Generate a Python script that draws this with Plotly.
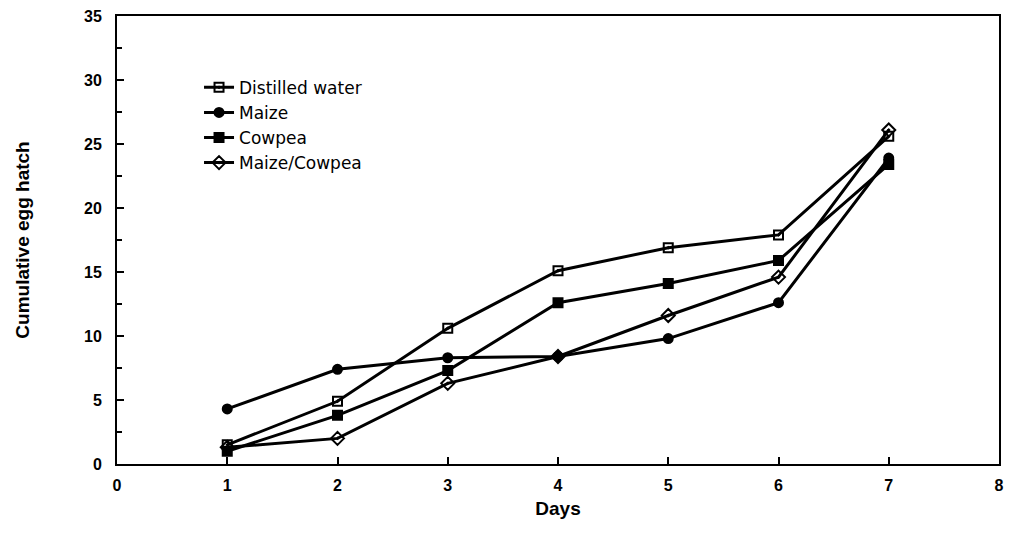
import plotly.graph_objects as go

days = [1, 2, 3, 4, 5, 6, 7]
distilled_water = [1.5, 4.9, 10.6, 15.1, 16.9, 17.9, 25.6]
maize = [4.3, 7.4, 8.3, 8.4, 9.8, 12.6, 23.9]
cowpea = [1.0, 3.8, 7.3, 12.6, 14.1, 15.9, 23.4]
maize_cowpea = [1.3, 2.0, 6.3, 8.4, 11.6, 14.6, 26.1]

x_ticks = list(range(0, 9))
y_ticks = list(range(0, 36, 5))

series = [
    ("Distilled water", distilled_water, "square-open-dot", 9),
    ("Maize", maize, "circle", 9),
    ("Cowpea", cowpea, "square", 9),
    ("Maize/Cowpea", maize_cowpea, "diamond-open-dot", 10),
]

font_family = "Liberation Sans, Arial, sans-serif"

fig = go.Figure()
for name, vals, sym, size in series:
    fig.add_trace(go.Scatter(
        x=days, y=vals, name=name, mode="lines+markers",
        legendgroup=name,
        line=dict(color="black", width=3),
        marker=dict(symbol=sym, size=size, color="black",
                    line=dict(color="black", width=2)),
    ))

axis_common = dict(
    showline=True, linecolor="black", linewidth=2, mirror=True,
    showgrid=False, zeroline=False, ticks="inside", tickcolor="black",
    tickwidth=2, ticklen=7, automargin=False, ticklabeloverflow="allow",
    tickfont=dict(family=font_family, size=16, color="black"),
)

fig.update_xaxes(range=[0, 8], tickvals=x_ticks, ticktext=[f"<b>{v}</b>" for v in x_ticks],
                 ticklabelstandoff=6, **axis_common,
                 title=dict(text="<b>Days</b>", font=dict(family=font_family, size=19, color="black"),
                            standoff=8))
fig.update_yaxes(range=[0, 35], tickvals=y_ticks, ticktext=[f"<b>{v}</b>" for v in y_ticks],
                 ticklabelstandoff=10,
                 minor=dict(tickvals=[2.5, 7.5, 12.5, 17.5, 22.5, 27.5, 32.5], ticks="inside",
                            ticklen=5, tickwidth=2, tickcolor="black"),
                 **axis_common,
                 title=dict(text="<b>Cumulative egg hatch</b>", font=dict(family=font_family, size=19, color="black"),
                            standoff=49))

fig.update_layout(
    width=1013, height=546,
    margin=dict(l=109, r=22, t=8, b=90),
    paper_bgcolor="white", plot_bgcolor="white",
    showlegend=True,
    legend=dict(x=0.093, y=0.88, xanchor="left", yanchor="top",
                bgcolor="rgba(0,0,0,0)",
                font=dict(family="DejaVu Sans, sans-serif", size=17, color="black"),
                tracegroupgap=0, itemwidth=30),
    font=dict(family=font_family, color="black"),
)

fig.write_html("out.html")
